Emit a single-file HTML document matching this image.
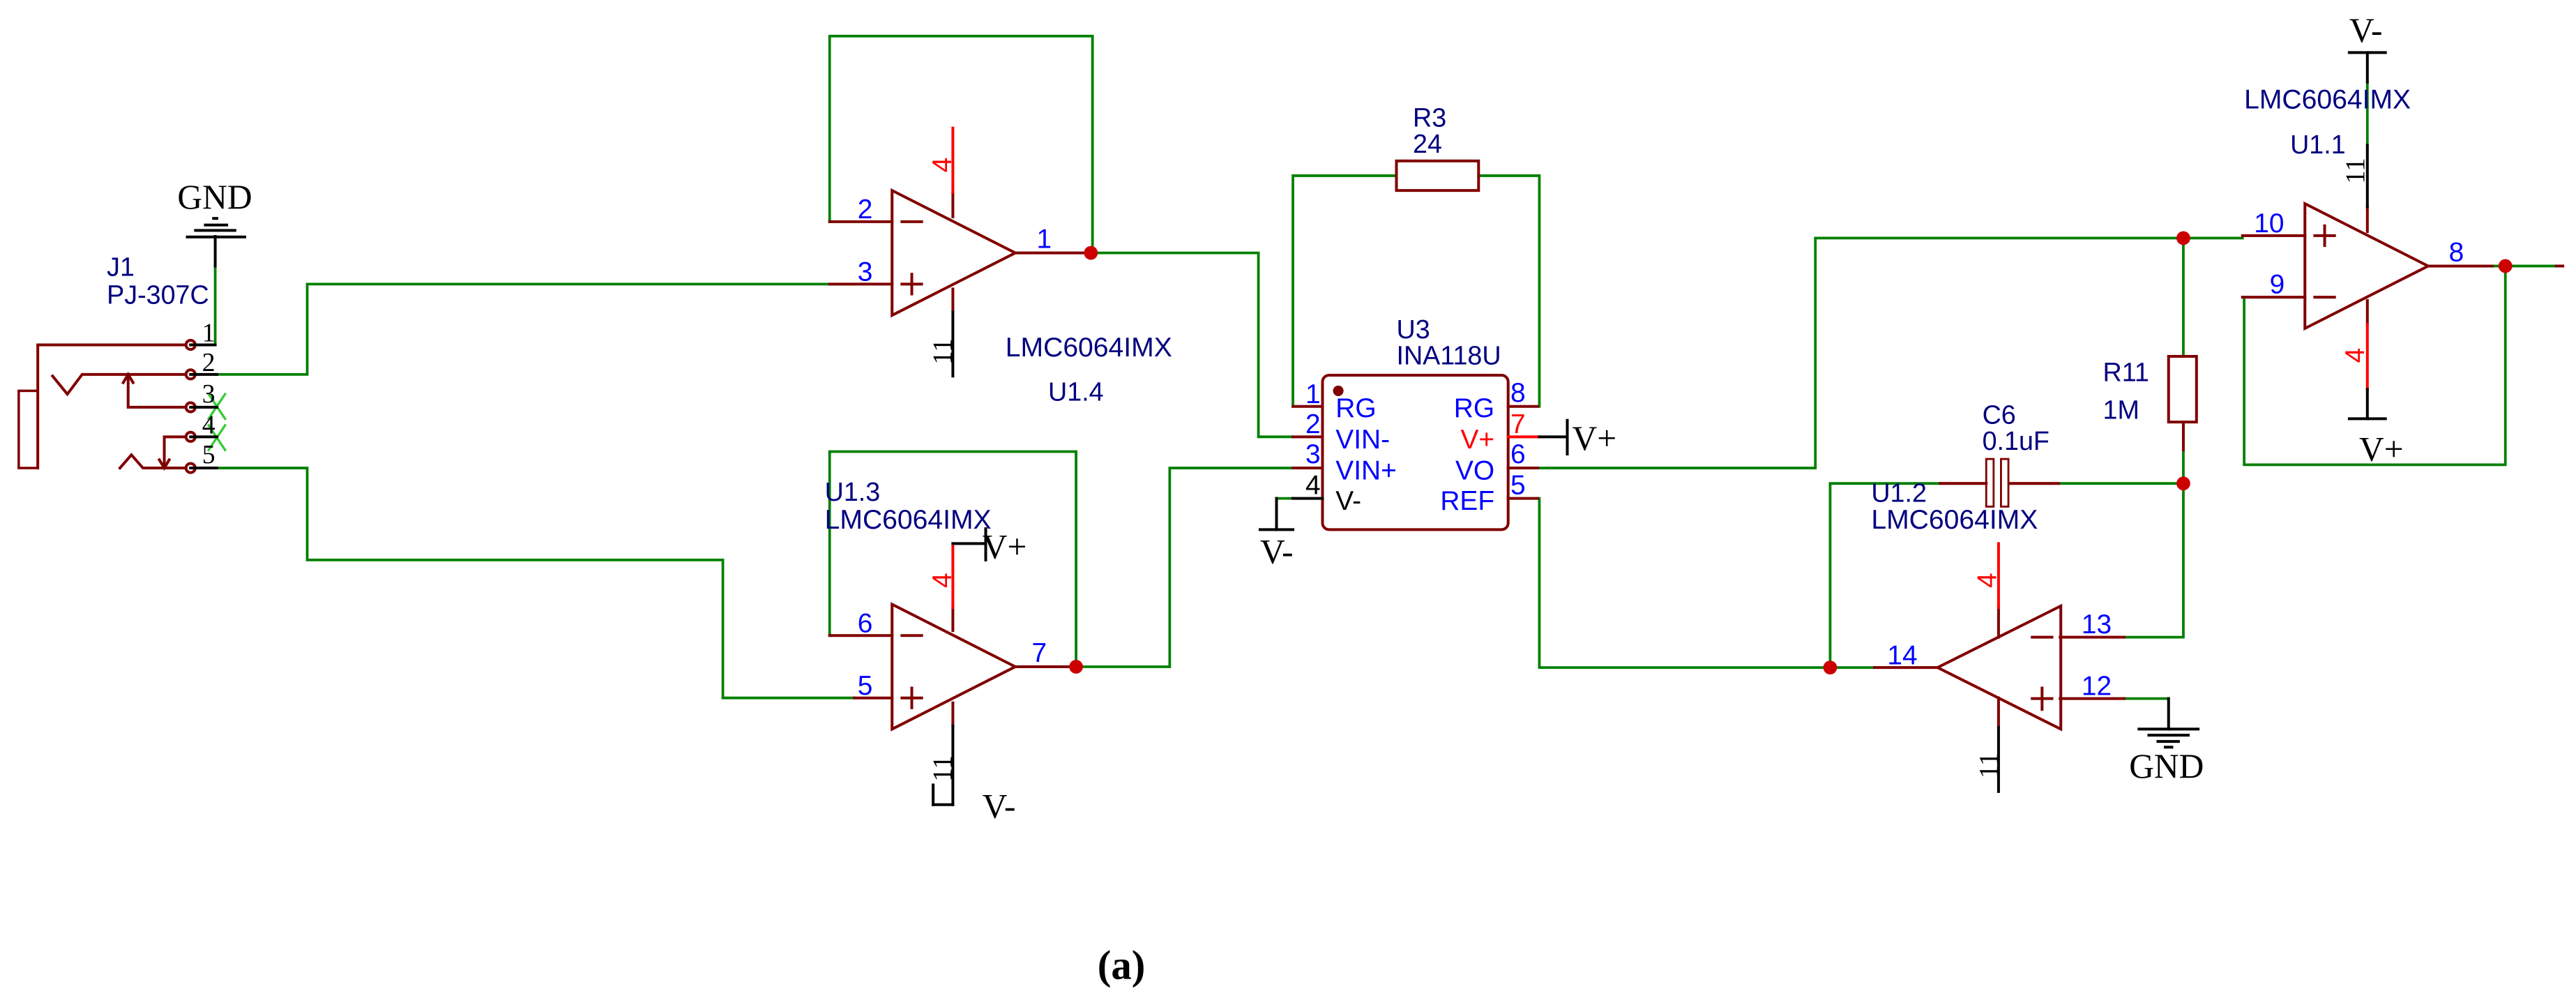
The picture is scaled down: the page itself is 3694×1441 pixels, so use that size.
<!DOCTYPE html>
<html><head><meta charset="utf-8"><style>html,body{margin:0;padding:0;background:#fff;}svg{display:block;}</style></head>
<body>
<svg width="3694" height="1441" viewBox="0 0 1568 612" preserveAspectRatio="none" xmlns="http://www.w3.org/2000/svg">
<g fill="none" stroke-linecap="square">
<!-- green wires -->
<g stroke="#008000" stroke-width="1.6">
<polyline points="131,162 131,210"/>
<polyline points="132,228 187,228 187,173 520,173"/>
<polyline points="132,285 187,285 187,341 440,341 440,425 520,425"/>
<polyline points="505,135 505,22 665,22 665,154"/>
<polyline points="660,154 766,154 766,266 787,266"/>
<polyline points="505,387 505,275 655,275 655,406"/>
<polyline points="640,406 712,406 712,285 787,285"/>
<polyline points="850,107 787,107 787,247.5"/>
<polyline points="900,107 937,107 937,247.5"/>
<polyline points="936,285 1105,285 1105,145 1365,145"/>
<polyline points="936,303.5 937,303.5 937,406.5 1141,406.5"/>
<polyline points="1114,406.5 1114,294.4 1181,294.4"/>
<polyline points="1253,294.4 1329,294.4 1329,388 1293,388"/>
<polyline points="1329,145 1329,217"/>
<polyline points="1329,274 1329,294.4"/>
<polyline points="1293,425.4 1320,425.4"/>
<polyline points="1365,181 1366,181 1366,283 1525,283 1525,162"/>
<polyline points="1517,162 1556,162"/>
<polyline points="1441,50 1441,88.5"/>
<polyline points="777,303.5 787,303.5"/>
</g>
<!-- green X -->
<g stroke="#33cc33" stroke-width="1.4">
<line x1="127" y1="240" x2="137" y2="255"/><line x1="137" y1="240" x2="127" y2="255"/>
<line x1="127" y1="259" x2="137" y2="274"/><line x1="137" y1="259" x2="127" y2="274"/>
</g>
<!-- dark red symbols -->
<g stroke="#800000" stroke-width="1.7">
<polyline points="113,210 23,210 23,285"/>
<rect x="11.4" y="238" width="11.6" height="47" stroke-width="1.5"/>
<polyline points="32,229 41,240 50,228 113,228"/>
<polyline points="78,228 78,248 113,248"/>
<polyline points="75,233 78,228 81,233"/>
<polyline points="113,266 100,266 100,285"/>
<polyline points="97,280 100,285 103,280"/>
<polyline points="73,285 80,277 87,285 113,285"/>
<circle cx="116" cy="210" r="2.8"/><circle cx="116" cy="228" r="2.8"/><circle cx="116" cy="248" r="2.8"/><circle cx="116" cy="266" r="2.8"/><circle cx="116" cy="285" r="2.8"/>
<!-- U1.4 -->
<polygon points="543,116 543,192 618,154"/>
<line x1="505" y1="135" x2="543" y2="135"/><line x1="505" y1="173" x2="543" y2="173"/><line x1="618" y1="154" x2="660" y2="154"/>
<line x1="549" y1="135" x2="561" y2="135"/><line x1="549" y1="173" x2="561" y2="173"/><line x1="555" y1="167" x2="555" y2="179"/>
<line x1="580" y1="117" x2="580" y2="132"/><line x1="580" y1="176" x2="580" y2="190"/>
<!-- U1.3 -->
<polygon points="543,368 543,444 618,406"/>
<line x1="505" y1="387" x2="543" y2="387"/><line x1="520" y1="425" x2="543" y2="425"/><line x1="618" y1="406" x2="650" y2="406"/>
<line x1="549" y1="387" x2="561" y2="387"/><line x1="549" y1="425" x2="561" y2="425"/><line x1="555" y1="419" x2="555" y2="431"/>
<line x1="580" y1="370" x2="580" y2="384"/><line x1="580" y1="428" x2="580" y2="442"/>
<!-- INA -->
<rect x="805" y="228.5" width="113" height="94" rx="4"/>
<line x1="787" y1="247.5" x2="805" y2="247.5"/><line x1="787" y1="266" x2="805" y2="266"/><line x1="787" y1="285" x2="805" y2="285"/>
<line x1="918" y1="247.5" x2="936" y2="247.5"/><line x1="918" y1="285" x2="936" y2="285"/><line x1="918" y1="303.5" x2="936" y2="303.5"/>
<!-- R3 -->
<rect x="850" y="98" width="50" height="18"/>
<!-- C6 -->
<line x1="1181" y1="294.4" x2="1209" y2="294.4"/><line x1="1223" y1="294.4" x2="1253" y2="294.4"/>
<rect x="1209" y="279.5" width="4.5" height="29" stroke-width="1.2"/><rect x="1218" y="279.5" width="4.5" height="29" stroke-width="1.2"/>
<!-- R11 -->
<rect x="1320" y="217" width="17" height="40"/>
<line x1="1329" y1="257" x2="1329" y2="274"/>
<!-- U1.2 -->
<polygon points="1254.4,369 1254.4,444 1179.4,406.5"/>
<line x1="1141" y1="406.5" x2="1179" y2="406.5"/><line x1="1254" y1="388" x2="1293" y2="388"/><line x1="1254" y1="425.4" x2="1293" y2="425.4"/>
<line x1="1237" y1="388" x2="1249" y2="388"/><line x1="1237" y1="425.4" x2="1249" y2="425.4"/><line x1="1243" y1="419" x2="1243" y2="432"/>
<line x1="1216.5" y1="370" x2="1216.5" y2="388"/><line x1="1216.5" y1="425" x2="1216.5" y2="443"/>
<!-- U1.1 -->
<polygon points="1403,124 1403,200 1478,162"/>
<line x1="1365" y1="143.5" x2="1403" y2="143.5"/><line x1="1365" y1="181" x2="1403" y2="181"/><line x1="1478" y1="162" x2="1517" y2="162"/>
<line x1="1409" y1="143.5" x2="1421" y2="143.5"/><line x1="1415" y1="137.5" x2="1415" y2="149.5"/><line x1="1409" y1="181" x2="1421" y2="181"/>
<line x1="1441" y1="126" x2="1441" y2="141"/><line x1="1441" y1="183" x2="1441" y2="197.5"/>
<line x1="1556" y1="162" x2="1560" y2="162"/>
</g>
<!-- red power pins -->
<g stroke="#ff0000" stroke-width="1.7">
<line x1="580" y1="78" x2="580" y2="117"/>
<line x1="580" y1="331" x2="580" y2="370"/>
<line x1="1216.5" y1="331" x2="1216.5" y2="370"/>
<line x1="1441" y1="197.5" x2="1441" y2="237"/>
<line x1="918" y1="266" x2="937" y2="266"/>
</g>
<!-- black -->
<g stroke="#000" stroke-width="1.7">
<line x1="131" y1="144" x2="131" y2="162"/>
<line x1="114" y1="144.3" x2="149" y2="144.3"/><line x1="119" y1="140.3" x2="143" y2="140.3"/><line x1="125" y1="137" x2="138" y2="137"/><line x1="130" y1="133" x2="132" y2="133"/>
<line x1="116" y1="210" x2="131" y2="210"/><line x1="116" y1="228" x2="132" y2="228"/><line x1="116" y1="248" x2="132" y2="248"/><line x1="116" y1="266" x2="132" y2="266"/><line x1="116" y1="285" x2="132" y2="285"/>
<line x1="580" y1="190" x2="580" y2="229"/>
<polyline points="580,331 600,331"/><line x1="600" y1="322" x2="600" y2="341"/>
<line x1="580" y1="442" x2="580" y2="490"/><line x1="568" y1="490" x2="580" y2="490"/><line x1="568" y1="478" x2="568" y2="490"/>
<polyline points="805,303.5 787,303.5"/><polyline points="777,303.5 777,322.5"/><line x1="767" y1="322.5" x2="787" y2="322.5"/>
<line x1="937" y1="266" x2="954" y2="266"/><line x1="954" y1="256" x2="954" y2="276.5"/>
<line x1="1320" y1="425.4" x2="1320" y2="444"/>
<line x1="1302" y1="444" x2="1338" y2="444"/><line x1="1308" y1="447.7" x2="1332" y2="447.7"/><line x1="1313.5" y1="451.5" x2="1326" y2="451.5"/><line x1="1318" y1="455" x2="1322" y2="455"/>
<line x1="1216.5" y1="443" x2="1216.5" y2="482"/>
<line x1="1430" y1="32" x2="1452" y2="32"/><line x1="1441" y1="32" x2="1441" y2="50"/><line x1="1441" y1="88.5" x2="1441" y2="126"/>
<line x1="1441" y1="237" x2="1441" y2="255"/><line x1="1430" y1="255" x2="1452" y2="255"/>
</g>
</g>
<!-- dots -->
<g fill="#cc0000">
<circle cx="664" cy="154" r="4.2"/><circle cx="655" cy="406" r="4.2"/><circle cx="1329" cy="145" r="4.2"/><circle cx="1329" cy="294.4" r="4.2"/><circle cx="1114" cy="406.5" r="4.2"/><circle cx="1525" cy="162" r="4.2"/>
</g>
<circle cx="814.6" cy="238" r="3.2" fill="#800000"/>
<!-- text -->
<g font-family="Liberation Serif, serif" font-size="21" fill="#000">
<text x="108" y="127">GND</text>
<text x="598" y="340">V+</text>
<text x="598" y="498">V-</text>
<text x="767" y="343">V-</text>
<text x="957" y="274">V+</text>
<text x="1296" y="473.5">GND</text>
<text x="1430" y="25.5">V-</text>
<text x="1436" y="280.5">V+</text>
<text x="668" y="596" font-weight="bold" font-size="25">(a)</text>
</g>
<g font-family="Liberation Sans, sans-serif" font-size="16" fill="#000080">
<text x="65" y="168">J1</text><text x="65" y="185">PJ-307C</text>
<text x="612" y="217" font-size="16.6">LMC6064IMX</text><text x="638" y="244">U1.4</text>
<text x="502" y="305">U1.3</text><text x="502" y="322" font-size="16.6">LMC6064IMX</text>
<text x="850" y="206">U3</text><text x="850" y="222">INA118U</text>
<text x="860" y="77">R3</text><text x="860" y="93">24</text>
<text x="1206.6" y="258">C6</text><text x="1206.6" y="274">0.1uF</text>
<text x="1280" y="232">R11</text><text x="1280" y="255">1M</text>
<text x="1139" y="305.6">U1.2</text><text x="1139" y="322" font-size="16.6">LMC6064IMX</text>
<text x="1366" y="66" font-size="16.6">LMC6064IMX</text><text x="1394" y="93.5">U1.1</text>
</g>
<g font-family="Liberation Sans, sans-serif" font-size="16.5" fill="#0000ff">
<text x="522" y="133">2</text><text x="522" y="171">3</text><text x="631" y="151">1</text>
<text x="522" y="385">6</text><text x="522" y="423">5</text><text x="628" y="403">7</text>
<text x="794.6" y="245.4">1</text><text x="794.6" y="263.8">2</text><text x="794.6" y="282">3</text>
<text x="919.4" y="244.7">8</text><text x="919.4" y="282">6</text><text x="919.4" y="301">5</text>
<text x="813" y="254">RG</text><text x="813" y="273">VIN-</text><text x="813" y="292">VIN+</text>
<text x="909.7" y="254" text-anchor="end">RG</text><text x="909.7" y="292" text-anchor="end">VO</text><text x="909.7" y="310.5" text-anchor="end">REF</text>
<text x="1148.8" y="404.5">14</text><text x="1267" y="385.6">13</text><text x="1267" y="423.2">12</text>
<text x="1372" y="141.5">10</text><text x="1381.5" y="178.5">9</text><text x="1490.6" y="159">8</text>
</g>
<g font-family="Liberation Sans, sans-serif" font-size="16.5">
<text x="919.4" y="263.8" fill="#ff0000">7</text><text x="909.7" y="273" fill="#ff0000" text-anchor="end">V+</text>
<text x="794.6" y="301" fill="#000">4</text><text x="813" y="310.5" fill="#000">V-</text>
</g>
<g font-family="Liberation Serif, serif" font-size="16" fill="#000">
<text x="123" y="208">1</text>
<text x="123" y="226">2</text>
<text x="123" y="245">3</text>
<text x="123" y="264">4</text>
<text x="123" y="282">5</text>
</g>
<g font-family="Liberation Sans, sans-serif" font-size="16.5" fill="#ff0000">
<text x="0" y="0" transform="translate(579,105) rotate(-90)">4</text>
<text x="0" y="0" transform="translate(579,358) rotate(-90)">4</text>
<text x="0" y="0" transform="translate(1215,358) rotate(-90)">4</text>
<text x="0" y="0" transform="translate(1439,221) rotate(-90)">4</text>
</g>
<g font-family="Liberation Serif, serif" font-size="16.5" fill="#000">
<text x="0" y="0" transform="translate(579,222) rotate(-90)">11</text>
<text x="0" y="0" transform="translate(579,476) rotate(-90)">11</text>
<text x="0" y="0" transform="translate(1216,474) rotate(-90)">11</text>
<text x="0" y="0" transform="translate(1439,112) rotate(-90)">11</text>
</g>
</svg>
</body></html>
